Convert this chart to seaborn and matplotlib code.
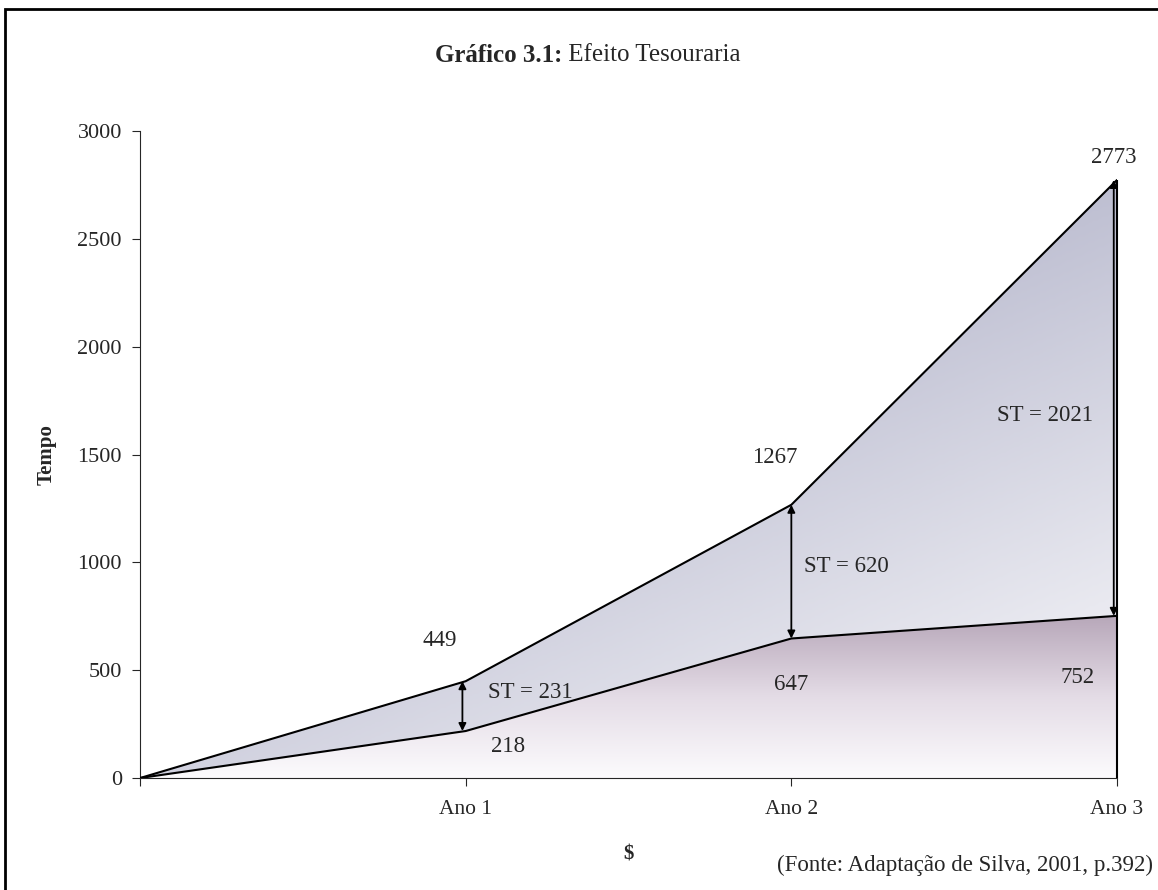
import numpy as np
import pandas as pd
import matplotlib
matplotlib.use("Agg")
import matplotlib.pyplot as plt
from matplotlib.patches import Polygon, Rectangle
from matplotlib.colors import LinearSegmentedColormap
import seaborn as sns

# data
periods = ["", "Ano 1", "Ano 2", "Ano 3"]
upper = [0, 449, 1267, 2773]
lower = [0, 218, 647, 752]
y_ticks = [0, 500, 1000, 1500, 2000, 2500, 3000]

sns.set_style("ticks")
plt.rcParams['font.family'] = ['Liberation Serif', 'DejaVu Serif']
plt.rcParams['font.size'] = 15

df = pd.DataFrame({"x": np.arange(len(periods)), "upper": upper, "lower": lower})
st = df["upper"] - df["lower"]

fig = plt.figure(figsize=(11.58, 8.90), dpi=100)
ax = fig.add_axes([0.1209, 0.1258, 0.8437, 0.727])


def clip_poly(ax, xs, ys_top, ys_bot):
    verts = list(zip(xs, ys_top)) + list(zip(xs[::-1], ys_bot[::-1]))
    poly = Polygon(verts, closed=True, facecolor="none", edgecolor="none")
    ax.add_patch(poly)
    return poly


xs = df["x"].to_numpy()
top = df["upper"].to_numpy()
bot = df["lower"].to_numpy()

# upper area: darker towards the top and the left, lighter bottom-right
u = np.linspace(0, 1, 300)[None, :]
v = np.linspace(0, 1, 300)[:, None]
bright = np.clip((209 + 45 * u - 64 * v - 186) / 56, 0, 1)
cmap_up = LinearSegmentedColormap.from_list("up", ["#babbcf", "#f0f0f5"])
im = ax.imshow(bright, cmap=cmap_up, vmin=0, vmax=1, aspect="auto", origin="lower",
               extent=[xs.min(), xs.max(), 0, top.max()], zorder=1)
im.set_clip_path(clip_poly(ax, xs, top, bot))

# lower area: vertical gradient, purple-grey to white
grad = np.linspace(0, 1, 256).reshape(-1, 1)
cmap_lo = LinearSegmentedColormap.from_list("lo", ["#fcfbfd", "#e4dce6", "#b7a7b9"])
im2 = ax.imshow(grad, cmap=cmap_lo, aspect="auto", origin="lower",
                extent=[xs.min(), xs.max(), 0, bot.max()], zorder=1)
im2.set_clip_path(clip_poly(ax, xs, bot, np.zeros(len(xs))))

sns.lineplot(data=df, x="x", y="upper", color="black", lw=1.5, ax=ax, zorder=3)
sns.lineplot(data=df, x="x", y="lower", color="black", lw=1.5, ax=ax, zorder=3)
ax.vlines(xs[-1], 0, top[-1], color="black", lw=1.5, zorder=3, clip_on=False)

ax.set_xlim(0, 3)
ax.set_ylim(0, 3000)
ax.set_yticks(y_ticks)
ax.set_xticks(xs)
ax.set_xticklabels(periods)
ax.tick_params(axis="y", labelsize=16, length=6, pad=7)
ax.tick_params(axis="x", labelsize=15.5, length=6, pad=10)
sns.despine(ax=ax)
ax.set_xlabel("$", fontweight="bold", fontsize=15, labelpad=18)
ax.set_ylabel("Tempo", fontweight="bold", fontsize=15, labelpad=15)

# double arrows for ST
arrow_x = [0, 0.99, 2.0, 2.99]
for i in range(1, len(xs)):
    ax.annotate("", xy=(arrow_x[i], top[i]), xytext=(arrow_x[i], bot[i]),
                arrowprops=dict(arrowstyle="<|-|>", color="black", lw=1.3,
                                mutation_scale=11, shrinkA=0, shrinkB=0), zorder=4)

# value labels
up_off = [(0, 0), (-0.08, 190), (-0.05, 217), (-0.01, 106)]
lo_off = [(0, 0), (0.13, -74), (0.0, -211), (-0.12, -284)]
st_off = [(0, 0), (0.2, 65), (0.17, 26), (-0.22, -80)]
for i in range(1, len(xs)):
    ax.text(xs[i] + up_off[i][0], top[i] + up_off[i][1], str(upper[i]),
            ha="center", va="center", fontsize=16.5, zorder=5)
    ax.text(xs[i] + lo_off[i][0], bot[i] + lo_off[i][1], str(lower[i]),
            ha="center", va="center", fontsize=16.5, zorder=5)
    mid = (top[i] + bot[i]) / 2
    ax.text(xs[i] + st_off[i][0], mid + st_off[i][1], f"ST = {st[i]}",
            ha="center", va="center", fontsize=16.5, zorder=5)

fig.text(0.4855, 0.938, "Gráfico 3.1:", fontsize=18, fontweight="bold",
         ha="right", va="center")
fig.text(0.4855, 0.938, " Efeito Tesouraria", fontsize=18, ha="left", va="center")

fig.text(0.996, 0.028, "(Fonte: Adaptação de Silva, 2001, p.392)", fontsize=16.5,
         ha="right", va="center")

fig.patches.append(Rectangle((0.004, -0.01), 1.01, 1.0, transform=fig.transFigure,
                             fill=False, edgecolor="black", lw=2))

fig.savefig("out.png", dpi=100)
